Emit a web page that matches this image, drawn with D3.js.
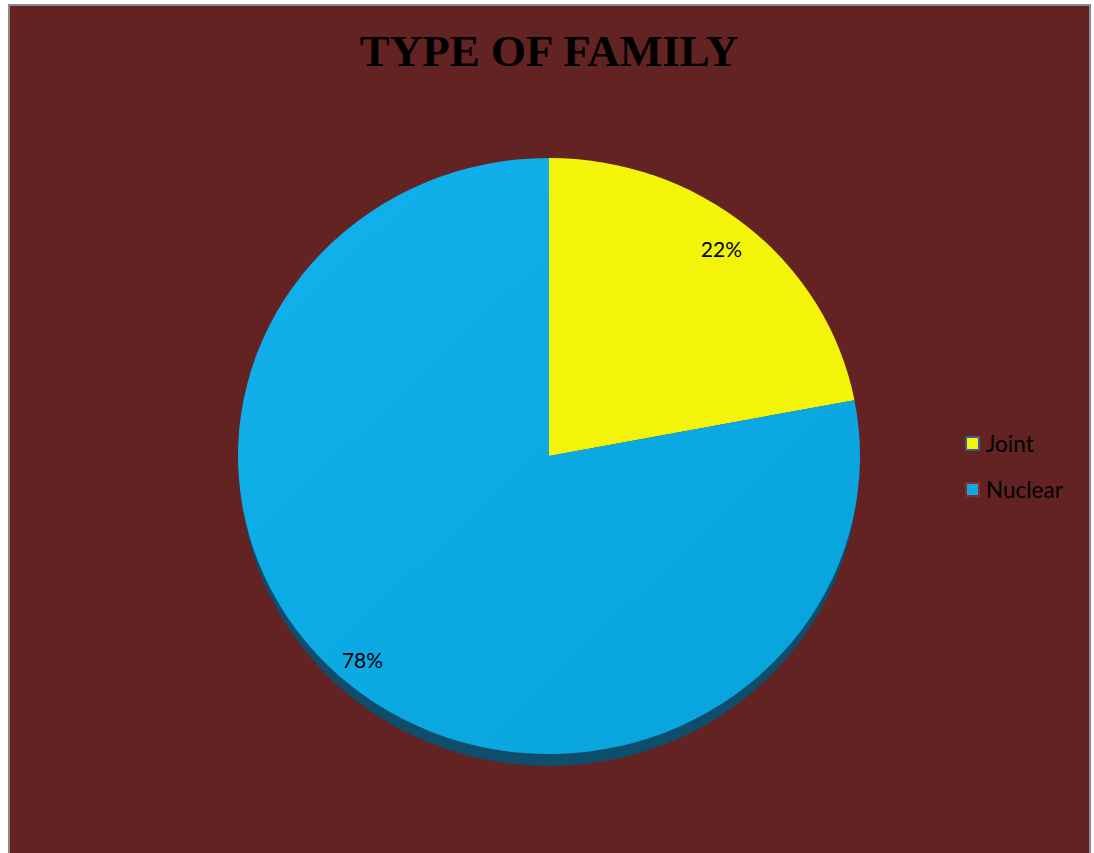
<!DOCTYPE html>
<html>
<head>
<meta charset="utf-8">
<script src="https://cdn.jsdelivr.net/npm/d3@7"></script>
<style>
  html, body { margin: 0; padding: 0; background: #ffffff; }
  svg { display: block; }
</style>
</head>
<body>
<svg id="chart" width="1094" height="853"></svg>
<script>
// Family type breakdown
const categories = ["Joint", "Nuclear"];
const values = [22, 78];
const labels = ["22%", "78%"];
const colors = ["#f4f40a", "#0aaae4"];
const legendStroke = ["#3b5b8c", "#8a2a2a"];

const svg = d3.select("#chart");
const W = 1094, H = 853;

// Chart area with grey frame
svg.append("rect")
  .attr("x", 9).attr("y", 5)
  .attr("width", 1081).attr("height", H)
  .attr("fill", "#622322")
  .attr("stroke", "#8a8a8a")
  .attr("stroke-width", 2);

svg.append("text")
  .attr("x", 549).attr("y", 66)
  .attr("text-anchor", "middle")
  .attr("font-family", "'Liberation Serif', 'Times New Roman', serif")
  .attr("font-weight", "bold")
  .attr("font-size", 45)
  .attr("fill", "#000")
  .text("TYPE OF FAMILY");

// Pie geometry (slightly tilted ellipse)
const cx = 549, cy = 456, rx = 311, ry = 298, depth = 12;
const sy = ry / rx;

const defs = svg.append("defs");
const grad = defs.append("linearGradient")
  .attr("id", "blueGrad")
  .attr("x1", "0").attr("y1", "0").attr("x2", "1").attr("y2", "1");
grad.append("stop").attr("offset", "0").attr("stop-color", "#12b2ec");
grad.append("stop").attr("offset", "1").attr("stop-color", "#06a2dc");

const fills = [colors[0], "url(#blueGrad)"];

// Side of the tilted disc
svg.append("ellipse")
  .attr("cx", cx).attr("cy", cy + depth)
  .attr("rx", rx - 2).attr("ry", ry)
  .attr("fill", "#0f4d6c");

const pie = d3.pie().sort(null).value(d => d)(values);
const arc = d3.arc().innerRadius(0).outerRadius(rx);
const labelArc = d3.arc().innerRadius(0).outerRadius(rx * 1.74);

const g = svg.append("g")
  .attr("transform", `translate(${cx},${cy}) scale(1,${sy})`);

g.selectAll("path.slice")
  .data(pie)
  .join("path")
  .attr("class", "slice")
  .attr("d", arc)
  .attr("fill", (d, i) => fills[i]);

svg.selectAll("text.pct")
  .data(pie)
  .join("text")
  .attr("class", "pct")
  .attr("x", (d, i) => cx + labelArc.centroid(d)[0] + (i === 1 ? -14 : 0))
  .attr("y", (d, i) => cy + labelArc.centroid(d)[1] * sy + (i === 0 ? -8 : 4))
  .attr("text-anchor", "middle")
  .attr("dominant-baseline", "central")
  .attr("font-family", "Lato, 'Open Sans', sans-serif")
  .attr("font-size", 21)
  .attr("fill", "#000")
  .text((d, i) => labels[i]);

// Legend
const legend = svg.append("g").attr("transform", "translate(965,436)");
const items = legend.selectAll("g.item")
  .data(categories)
  .join("g")
  .attr("class", "item")
  .attr("transform", (d, i) => `translate(0,${i * 46})`);
items.append("rect")
  .attr("x", 1).attr("y", 1)
  .attr("width", 13).attr("height", 13)
  .attr("fill", (d, i) => colors[i])
  .attr("stroke", (d, i) => legendStroke[i])
  .attr("stroke-width", 2);
items.append("text")
  .attr("x", 21).attr("y", 7)
  .attr("dominant-baseline", "central")
  .attr("font-family", "Lato, 'Open Sans', sans-serif")
  .attr("font-size", 22.5)
  .attr("fill", "#000")
  .text(d => d);
</script>
</body>
</html>
